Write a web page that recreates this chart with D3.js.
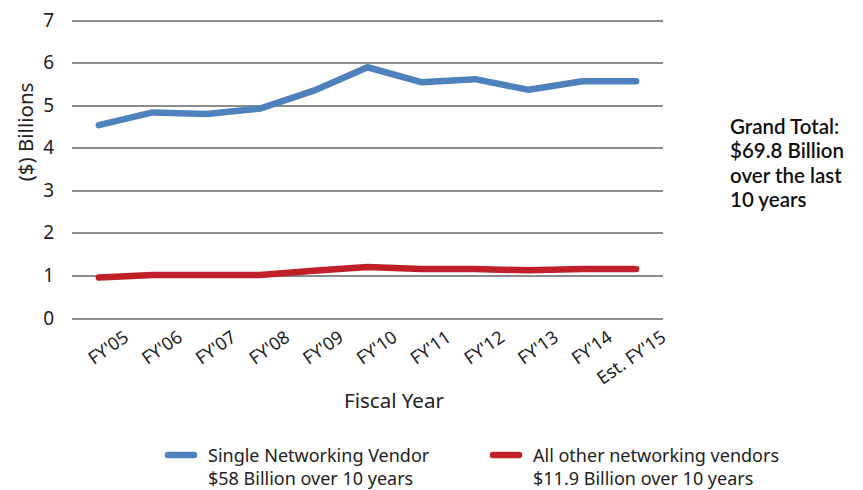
<!DOCTYPE html>
<meta charset="utf-8">
<html>
<head>
<style>
    body { margin: 0; background: #fff; font-family: "Noto Sans", sans-serif; }
    .grid line { stroke: #8c8c8c; stroke-width: 2px; shape-rendering: crispEdges; }
    .grid path { display: none; }
    .axis path, .axis line { display: none; }
    .axis text { font-family: "Noto Sans", sans-serif; fill: #222; }
    .series { fill: none; stroke-width: 6.5px; stroke-linejoin: round; stroke-linecap: round; }
</style>
</head>
<body>
<svg width="863" height="490"></svg>
<script src="https://d3js.org/d3.v7.min.js"></script>
<script>
    var years = ["FY'05", "FY'06", "FY'07", "FY'08", "FY'09", "FY'10", "FY'11", "FY'12", "FY'13", "FY'14", "Est. FY'15"];
    var singleVendor = [4.53, 4.83, 4.79, 4.92, 5.34, 5.89, 5.54, 5.61, 5.36, 5.56, 5.56];
    var otherVendors = [0.95, 1.01, 1.01, 1.01, 1.11, 1.2, 1.15, 1.15, 1.12, 1.15, 1.15];
    var yTicks = [0, 1, 2, 3, 4, 5, 6, 7];

    var svg = d3.select("svg"),
        margin = {top: 20, right: 200, bottom: 172, left: 72},
        width = 663 - margin.left,
        height = 318 - margin.top;

    var g = svg.append("g")
        .attr("transform", "translate(" + margin.left + "," + margin.top + ")");

    var x = d3.scaleBand().domain(years).range([0, width]);
    var y = d3.scaleLinear().domain([0, 7]).range([height, 0]);

    // gridlines
    g.append("g")
        .attr("class", "grid")
        .call(d3.axisLeft(y).tickValues(yTicks).tickSize(-width).tickFormat(""));

    // y tick labels
    var ya = g.append("g")
        .attr("class", "axis")
        .call(d3.axisLeft(y).tickValues(yTicks).tickFormat(d3.format("d")).tickSize(0).tickPadding(18));
    ya.selectAll("text").style("font-size", "19px");

    // x tick labels, rotated
    var xa = g.append("g")
        .attr("class", "axis")
        .attr("transform", "translate(0," + height + ")")
        .call(d3.axisBottom(x).tickSize(0));
    xa.selectAll("text")
        .style("font-size", "18px")
        .style("text-anchor", "end")
        .attr("x", 0)
        .attr("y", 0)
        .attr("dy", 0)
        .attr("transform", "translate(31,22) rotate(-35)");

    svg.append("text")
        .attr("transform", "translate(33,132) rotate(-90)")
        .attr("text-anchor", "middle")
        .style("font-size", "20.5px")
        .attr("fill", "#222")
        .text("($) Billions");

    svg.append("text")
        .attr("x", 394)
        .attr("y", 408)
        .attr("text-anchor", "middle")
        .style("font-size", "20.5px")
        .attr("fill", "#222")
        .text("Fiscal Year");

    var line = d3.line()
        .x(function(d, i) { return x(years[i]) + x.bandwidth() / 2; })
        .y(function(d) { return y(d); });

    g.append("path").datum(otherVendors)
        .attr("class", "series")
        .attr("stroke", "#c0202a")
        .attr("d", line);

    g.append("path").datum(singleVendor)
        .attr("class", "series")
        .attr("stroke", "#4f81bd")
        .attr("d", line);

    // legend
    var legend = [
        {color: "#4f81bd", x: 165, lines: ["Single Networking Vendor", "$58 Billion over 10 years"]},
        {color: "#c0202a", x: 490, lines: ["All other networking vendors", "$11.9 Billion over 10 years"]}
    ];
    var lg = svg.selectAll(".legend").data(legend).enter().append("g")
        .attr("class", "legend")
        .attr("transform", function(d) { return "translate(" + d.x + ",455)"; });
    lg.append("line")
        .attr("x1", 3).attr("x2", 29)
        .attr("stroke", function(d) { return d.color; })
        .attr("stroke-width", 6.5)
        .attr("stroke-linecap", "round");
    lg.append("text")
        .attr("x", 43)
        .attr("y", 7)
        .style("font-size", "18px")
        .attr("fill", "#222")
        .selectAll("tspan")
        .data(function(d) { return d.lines; })
        .enter().append("tspan")
        .attr("x", 43)
        .attr("dy", function(d, i) { return i ? 23 : 0; })
        .text(function(d) { return d; });

    // grand total note
    var note = ["Grand Total:", "$69.8 Billion", "over the last", "10 years"];
    svg.selectAll(".note").data(note).enter().append("text")
        .attr("class", "note")
        .attr("x", 730)
        .attr("y", function(d, i) { return 134 + i * 24.3; })
        .style("font-family", "Lato, sans-serif")
        .style("font-size", "20.5px")
        .style("font-weight", "600")
        .attr("fill", "#111")
        .text(function(d) { return d; });
</script>
</body>
</html>
